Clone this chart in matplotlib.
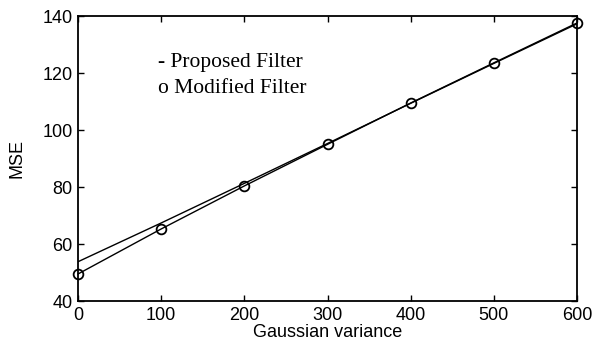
import matplotlib.pyplot as plt
import numpy as np

# Data
variance = [0, 100, 200, 300, 400, 500, 600]
proposed_mse = [53.8, 67.4, 81.3, 95.3, 109.4, 123.4, 137.3]
modified_mse = [49.5, 65.3, 80.4, 95.0, 109.5, 123.6, 137.6]

plt.rcParams['font.family'] = ['Liberation Sans', 'DejaVu Sans']

fig = plt.figure(figsize=(5.96, 3.44), dpi=100)
ax = fig.add_axes([0.131, 0.125, 0.837, 0.828])

ax.plot(variance, proposed_mse, color='black', lw=1.0)
ax.plot(variance, modified_mse, color='black', lw=1.0, marker='o',
        markersize=7, markerfacecolor='none', markeredgewidth=1.3, clip_on=False)

ax.set_xlim(0, 600)
ax.set_ylim(40, 140)
ax.set_xticks(np.arange(0, 601, 100))
ax.set_yticks(np.arange(40, 141, 20))
ax.tick_params(direction='in', top=True, right=True, length=4, width=1,
               labelsize=13, pad=4)
for s in ax.spines.values():
    s.set_linewidth(1.3)

ax.set_xlabel('Gaussian variance', fontsize=13, labelpad=0)
ax.set_ylabel('MSE', fontsize=13, labelpad=12)

ax.text(0.16, 0.821, '- Proposed Filter', transform=ax.transAxes,
        family='Liberation Serif', fontsize=15.5, va='baseline')
ax.text(0.16, 0.73, 'o Modified Filter', transform=ax.transAxes,
        family='Liberation Serif', fontsize=15.5, va='baseline')

fig.savefig('out.png', dpi=100)
